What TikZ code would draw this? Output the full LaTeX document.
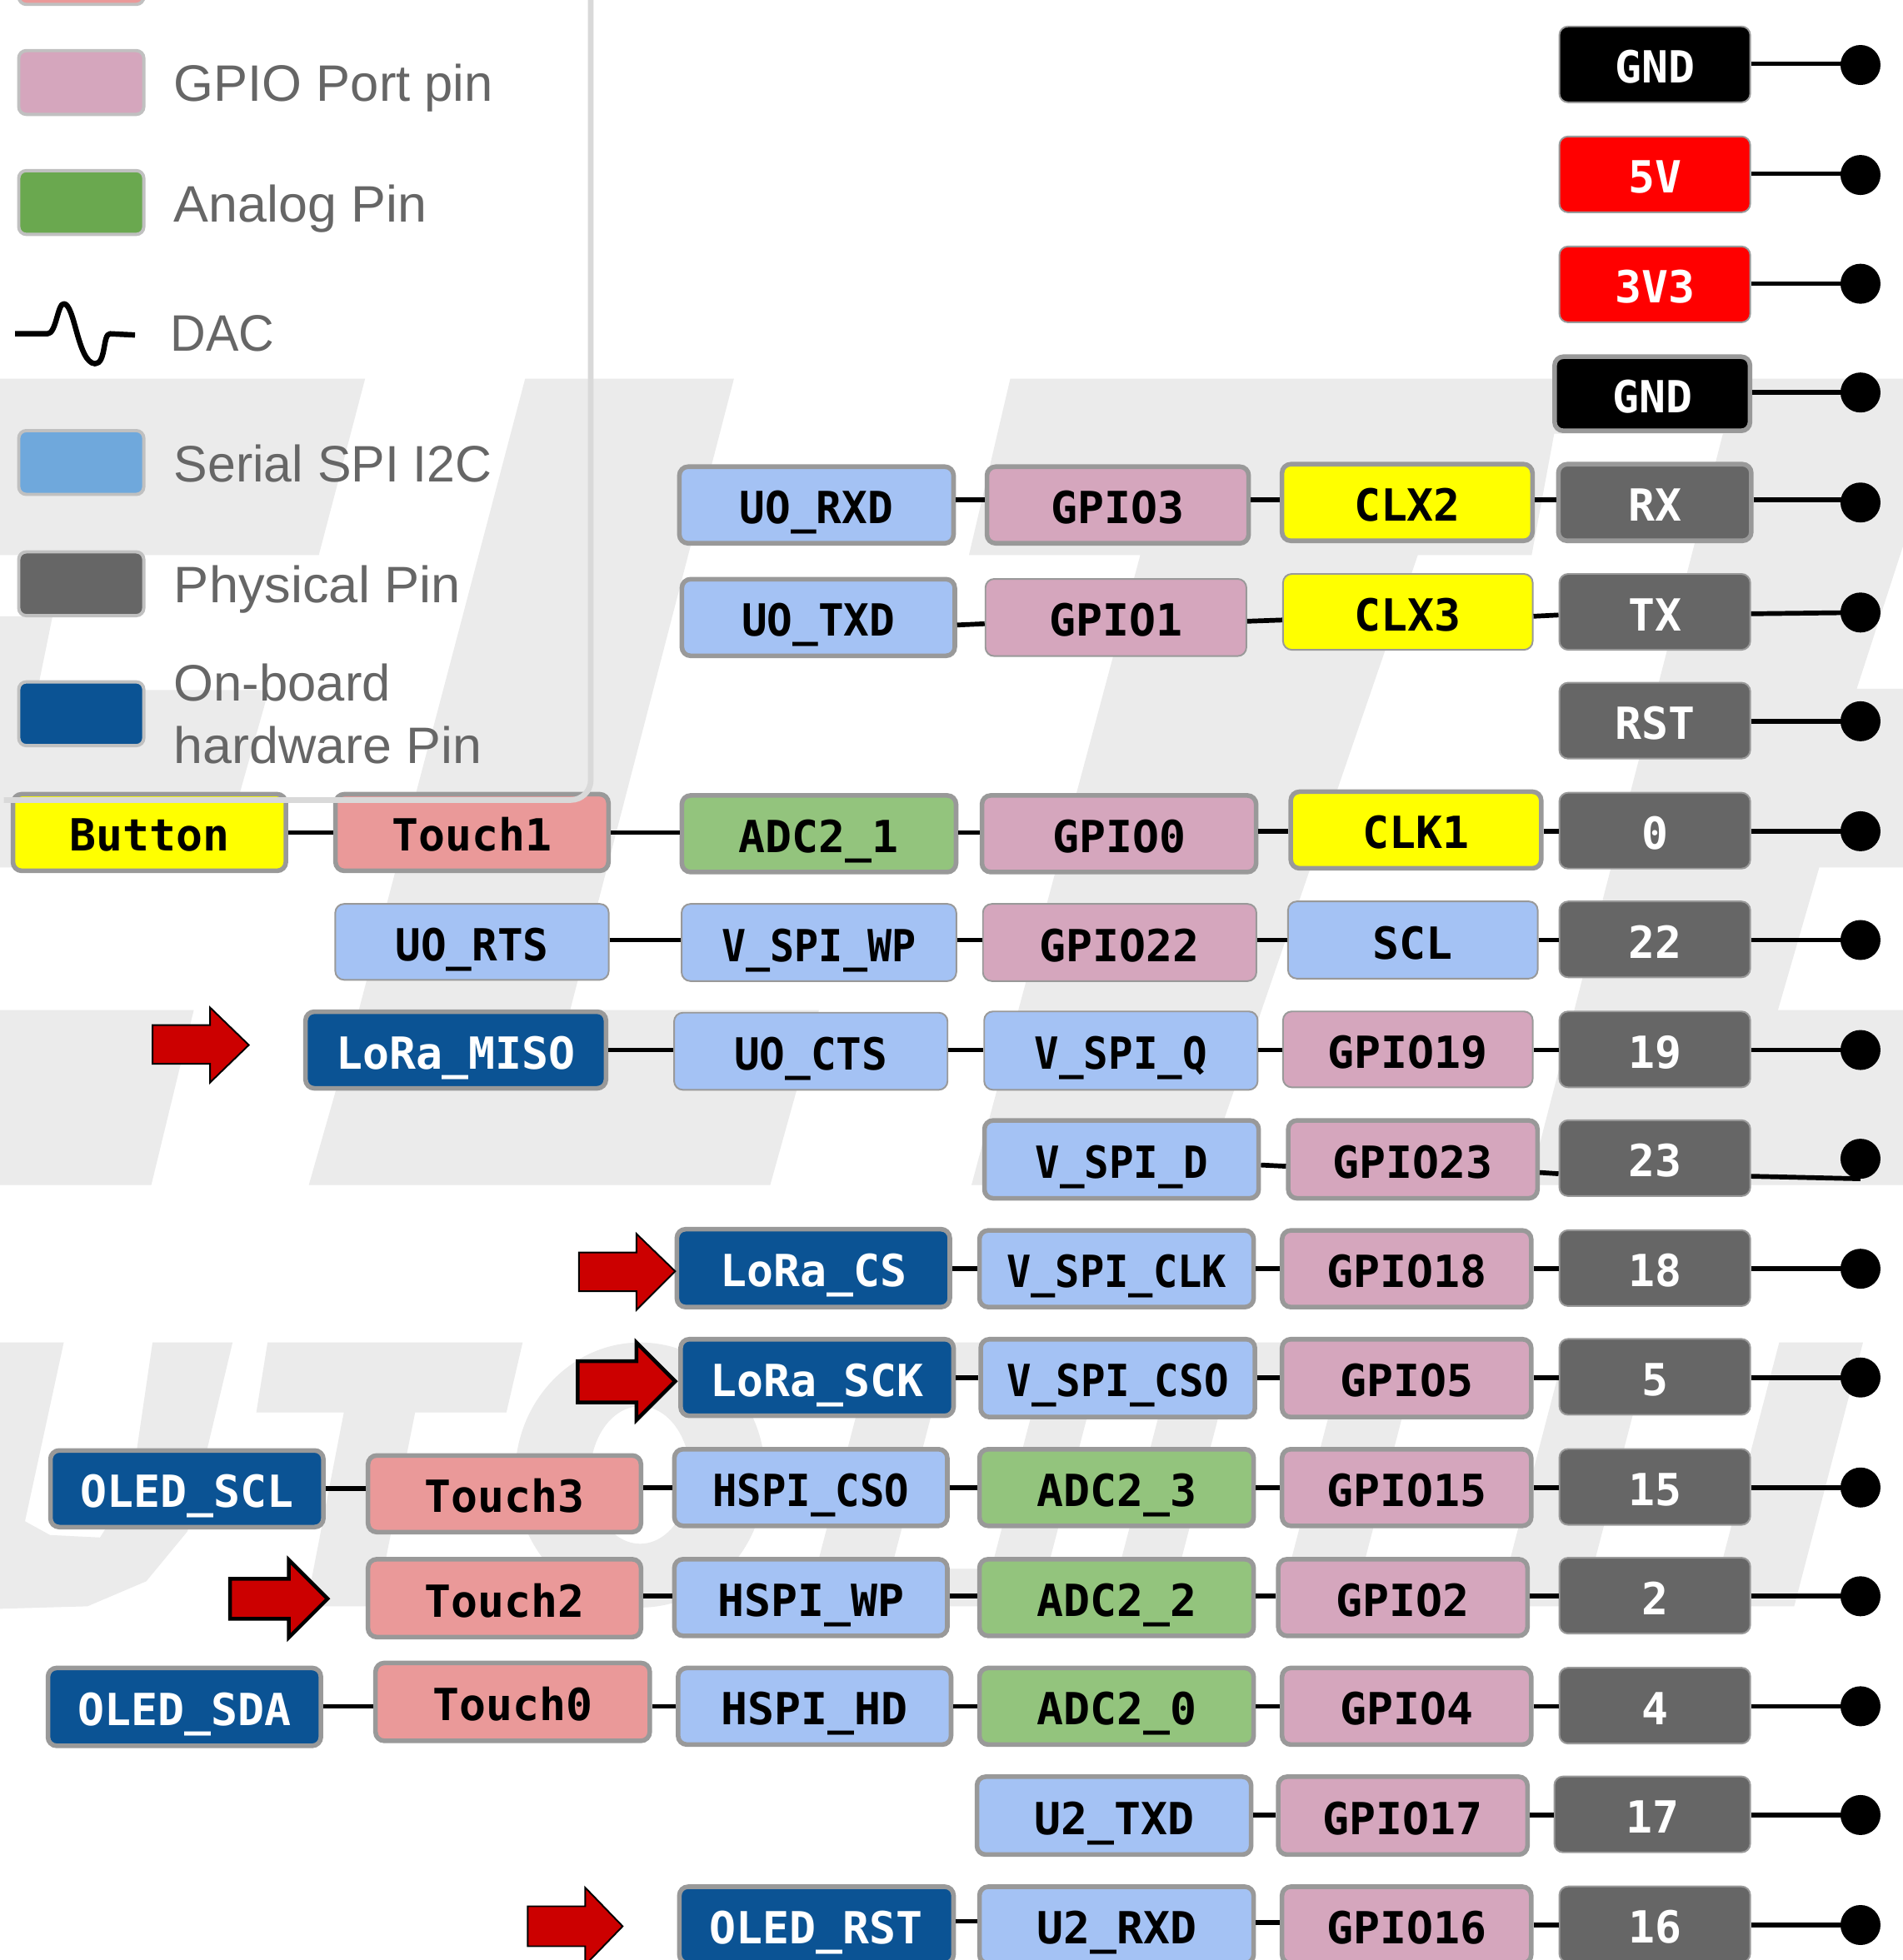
\documentclass[tikz,border=0pt]{standalone}
\usepackage{graphicx}
\usepackage{fontspec}
\setmainfont{Liberation Sans}
\newfontfamily\pinfont{DejaVu Sans Mono}
\definecolor{cblue}{HTML}{A4C2F4}
\definecolor{cpink}{HTML}{D5A6BD}
\definecolor{cgreen}{HTML}{93C47D}
\definecolor{csalmon}{HTML}{EA9999}
\definecolor{cyel}{HTML}{FFFF00}
\definecolor{cgray}{HTML}{666666}
\definecolor{cnavy}{HTML}{0B5394}
\definecolor{cred}{HTML}{FF0000}
\definecolor{cedge}{HTML}{999999}
\definecolor{lgreen}{HTML}{6AA84F}
\definecolor{lblue}{HTML}{6FA8DC}
\definecolor{wmark}{HTML}{EBEBEB}
\definecolor{panel}{HTML}{D9D9D9}
\definecolor{swedge}{HTML}{C0C0C0}
\definecolor{arrowred}{HTML}{CC0000}
\tikzset{
  pinbase/.style={rectangle,rounded corners=7pt,draw=cedge,inner sep=0pt,
    font=\pinfont\bfseries\fontsize{35.4}{40}\selectfont,
    text height=36pt,text depth=6pt},
  blue/.style={fill=cblue,text=black},
  pink/.style={fill=cpink,text=black},
  green/.style={fill=cgreen,text=black},
  salmon/.style={fill=csalmon,text=black},
  yel/.style={fill=cyel,text=black},
  phys/.style={fill=cgray,text=white},
  navy/.style={fill=cnavy,text=white},
  blk/.style={fill=black,text=white},
  rd/.style={fill=cred,text=white},
  wire/.style={draw=black,line width=3.8pt},
  enddot/.style={circle,fill=black,minimum size=32pt,inner sep=0pt},
  swatch/.style={rectangle,rounded corners=6pt,draw=swedge,line width=2.6pt,minimum width=100pt,minimum height=51pt,inner sep=0pt},
  legendtext/.style={anchor=base west,inner sep=0pt,text=cgray,font=\fontsize{41}{48}\selectfont},
  pointer/.style={fill=arrowred,draw=black,line join=miter},
  wm/.style={fill=wmark,draw=none}
}
% #1 line width, #2 style, #3 name, #4 x1, #5 x2, #6 y1, #7 y2, #8 text
\newcommand{\pinbox}[8]{%
  \pgfmathsetmacro{\pcx}{(#4+#5)/2}%
  \pgfmathsetmacro{\pcy}{(#6+#7)/2}%
  \pgfmathsetmacro{\pw}{#5-#4-#1+1}%
  \pgfmathsetmacro{\ph}{#7-#6-#1+1}%
  \node[pinbase,#2,line width=#1pt,minimum width=\pw pt,minimum height=\ph pt] (#3) at (\pcx,\pcy) {#8};%
}
\newcommand{\thk}[7]{\pinbox{3.7}{#1}{#2}{#3}{#4}{#5}{#6}{#7}}
\newcommand{\thn}[7]{\pinbox{1.3}{#1}{#2}{#3}{#4}{#5}{#6}{#7}}
\newcommand{\sq}[2]{\scalebox{#1}[1]{#2}}
\newcommand{\conn}[3]{\draw[wire] (#1.east |- 0,#3) -- (#2.west |- 0,#3);}
\newcommand{\connt}[4]{\draw[wire] (#1.east |- 0,#3) -- (#2.west |- 0,#4);}
\newcommand{\todot}[3]{\node[enddot] (d#1) at (1488,#3) {}; \draw[wire] (#1.east |- 0,#2) -- (d#1.center |- 0,#2);}
\begin{document}
\begin{tikzpicture}[x=1pt,y=-1pt]
\path[use as bounding box,clip] (0,0) rectangle (1522,1568);
\fill[white] (0,0) rectangle (1522,1568);
% watermark
\path[wm] (0,303)--(292,303)--(255,444)--(0,444)--cycle;
\path[wm] (420,303)--(587,303)--(456,808)--(655,808)--(616,948)--(247,948)--(287,808)--cycle;
\path[wm] (808,303)--(1522,303)--(1522,437)--(1485,551)--(1522,551)--(1522,694)--(1455,694)--(1422,808)--(1522,808)--(1522,948)--(1223,948)--(1378,347)--(1243,347)--(1225,444)--(1134,444)--(961,948)--(777,948)--(912,444)--(775,444)--cycle;
\path[wm] (0,493)--(42,493)--(30,552)--(215,552)--(175,694)--(0,694)--cycle;
\path[wm] (0,808)--(155,808)--(121,948)--(0,948)--cycle;
\path[wm] (0,1074)--(51,1074)--(20,1217)--(40,1228)--(80,1230)--(105,1190)--(122,1074)--(186,1074)--(150,1225)--(117,1265)--(70,1285)--(0,1287)--cycle;
\path[wm] (214,1074)--(418,1074)--(405,1130)--(332,1130)--(301,1285)--(245,1285)--(275,1130)--(205,1130)--cycle;
\path[wm,even odd rule] (512,1180) ellipse [x radius=100,y radius=106] (512,1180) ellipse [x radius=40,y radius=55];
\path[wm] (700,1074)--(760,1074)--(705,1285)--(645,1285)--cycle;
\path[wm] (840,1074)--(885,1074)--(830,1285)--(785,1285)--cycle;
\path[wm] (942,1074)--(990,1074)--(935,1285)--(887,1285)--cycle;
\path[wm] (1078,1074)--(1137,1074)--(1082,1285)--(1023,1285)--cycle;
\path[wm] (1253,1074)--(1321,1074)--(1266,1285)--(1198,1285)--cycle;
\path[wm] (1423,1074)--(1490,1074)--(1435,1285)--(1368,1285)--cycle;
\path[wm] (700,1074)--(1137,1074)--(1125,1100)--(695,1100)--cycle;
\path[wm] (600,1255)--(1000,1255)--(990,1285)--(590,1285)--cycle;
% legend swatches and texts
\node[swatch,fill=csalmon] (swTouch) at (65,-22) {};
\node[swatch,fill=cpink] (swGpio) at (65,66) {};
\node[swatch,fill=lgreen] (swAnalog) at (65,162) {};
\node[swatch,fill=lblue] (swSerial) at (65,370) {};
\node[swatch,fill=cgray] (swPhys) at (65,467) {};
\node[swatch,fill=cnavy] (swBoard) at (65,571) {};
\node[legendtext] (lGpio) at (139,81) {GPIO Port pin};
\node[legendtext] (lAnalog) at (139,177.5) {\sq{1.02}{Analog Pin}};
\node[legendtext] (lDac) at (136,281) {\sq{.96}{DAC}};
\node[legendtext] (lSerial) at (139,385.6) {\sq{.988}{Serial SPI I2C}};
\node[legendtext] (lPhys) at (139,482) {\sq{1.027}{Physical Pin}};
\node[legendtext] (lBoard) at (139,560.5) {On-board};
\node[legendtext] (lHard) at (139,611) {\sq{1.02}{hardware Pin}};
\draw[line width=4.3pt,line join=round] (12,267)--(38,267) .. controls (45,267) and (46,243) .. (51,243) .. controls (60,243) and (62,290) .. (76,291) .. controls (85,291) and (82,267) .. (88,267)--(108,268);
% pins right column
\thn{blk}{GNDa}{1247}{1400}{21}{82}{GND}
\thn{rd}{Vfive}{1247}{1400}{109}{170}{5V}
\thn{rd}{Vthree}{1247}{1400}{197}{258}{3V3}
\thk{blk}{GNDb}{1242}{1401}{284}{346}{GND}
\thk{phys}{pRX}{1245}{1402}{370}{434}{RX}
\thn{phys}{pTX}{1247}{1400}{459}{520}{TX}
\thn{phys}{pRST}{1247}{1400}{546}{607}{RST}
\thn{phys}{pZero}{1247}{1400}{634}{695}{0}
\thn{phys}{pTT}{1247}{1400}{721}{782}{22}
\thn{phys}{pNineteen}{1247}{1400}{809}{870}{19}
\thn{phys}{pTThree}{1247}{1400}{896}{957}{23}
\thn{phys}{pEighteen}{1247}{1400}{984}{1045}{18}
\thn{phys}{pFive}{1247}{1400}{1071}{1132}{5}
\thn{phys}{pFifteen}{1247}{1400}{1159}{1220}{15}
\thn{phys}{pTwo}{1247}{1400}{1246}{1307}{2}
\thn{phys}{pFour}{1247}{1400}{1334}{1395}{4}
\thn{phys}{pSeventeen}{1243}{1400}{1421}{1482}{17}
\thn{phys}{pSixteen}{1247}{1400}{1509}{1570}{16}
% rows
\thk{blue}{uRXD}{542}{764}{372}{436}{\sq{.96}{UO\_RXD}}
\thk{pink}{gThree}{788}{1000}{372}{436}{GPIO3}
\thk{yel}{clxTwo}{1024}{1227}{370}{434}{CLX2}
\thk{blue}{uTXD}{544}{765}{462}{526}{\sq{.96}{UO\_TXD}}
\thn{pink}{gOne}{788}{997}{463}{525}{GPIO1}
\thn{yel}{clxThree}{1026}{1226}{459}{520}{CLX3}
\thk{yel}{btn}{9}{230}{634}{698}{Button}
\thk{salmon}{tOne}{267}{488}{634}{698}{Touch1}
\thk{green}{aOne}{544}{766}{635}{699}{ADC2\_1}
\thk{pink}{gZero}{784}{1006}{635}{699}{GPIO0}
\thk{yel}{clkOne}{1031}{1234}{632}{696}{CLK1}
\thn{blue}{uRTS}{268}{487}{723}{784}{\sq{.96}{UO\_RTS}}
\thn{blue}{vWP}{545}{765}{723}{785}{\sq{.91}{V\_SPI\_WP}}
\thn{pink}{gTT}{786}{1005}{723}{785}{GPIO22}
\thn{blue}{scl}{1030}{1230}{721}{783}{SCL}
\thk{navy}{lMISO}{243}{486}{808}{872}{LoRa\_MISO}
\thn{blue}{uCTS}{539}{758}{810}{872}{\sq{.96}{UO\_CTS}}
\thn{blue}{vQ}{787}{1006}{809}{872}{\sq{.925}{V\_SPI\_Q}}
\thn{pink}{gNineteen}{1026}{1226}{809}{870}{GPIO19}
\thk{blue}{vD}{786}{1008}{895}{960}{\sq{.925}{V\_SPI\_D}}
\thk{pink}{gTThree}{1029}{1231}{895}{960}{GPIO23}
\thk{navy}{lCS}{540}{761}{982}{1047}{LoRa\_CS}
\thk{blue}{vCLK}{782}{1004}{983}{1047}{\sq{.916}{V\_SPI\_CLK}}
\thk{pink}{gEighteen}{1024}{1226}{983}{1047}{GPIO18}
\thk{navy}{lSCK}{543}{764}{1070}{1134}{LoRa\_SCK}
\thk{blue}{vCSO}{783}{1005}{1070}{1135}{\sq{.925}{V\_SPI\_CSO}}
\thk{pink}{gFive}{1024}{1226}{1070}{1135}{GPIO5}
\thk{navy}{oSCL}{39}{260}{1159}{1223}{OLED\_SCL}
\thk{salmon}{tThree}{293}{514}{1163}{1227}{Touch3}
\thk{blue}{hCSO}{538}{759}{1158}{1222}{\sq{.92}{HSPI\_CSO}}
\thk{green}{aThree}{782}{1004}{1158}{1222}{ADC2\_3}
\thk{pink}{gFifteen}{1024}{1226}{1158}{1222}{GPIO15}
\thk{salmon}{tTwo}{293}{514}{1246}{1311}{Touch2}
\thk{blue}{hWP}{538}{759}{1246}{1310}{HSPI\_WP}
\thk{green}{aTwo}{782}{1004}{1246}{1310}{ADC2\_2}
\thk{pink}{gTwo}{1021}{1223}{1246}{1310}{GPIO2}
\thk{navy}{oSDA}{37}{258}{1333}{1398}{OLED\_SDA}
\thk{salmon}{tZero}{299}{521}{1329}{1394}{Touch0}
\thk{blue}{hHD}{541}{762}{1333}{1397}{HSPI\_HD}
\thk{green}{aZero}{782}{1004}{1333}{1397}{ADC2\_0}
\thk{pink}{gFour}{1024}{1226}{1333}{1397}{GPIO4}
\thk{blue}{uTwoT}{780}{1002}{1420}{1485}{U2\_TXD}
\thk{pink}{gSeventeen}{1021}{1223}{1420}{1485}{GPIO17}
\thk{navy}{oRST}{542}{764}{1508}{1572}{OLED\_RST}
\thk{blue}{uTwoR}{782}{1004}{1508}{1572}{U2\_RXD}
\thk{pink}{gSixteen}{1024}{1226}{1508}{1572}{GPIO16}
% connectors
\conn{uRXD}{gThree}{400}\conn{gThree}{clxTwo}{400}\conn{clxTwo}{pRX}{400}
\connt{uTXD}{gOne}{500}{499}\connt{gOne}{clxThree}{497}{496}\connt{clxThree}{pTX}{493}{492}
\conn{btn}{tOne}{666}\conn{tOne}{aOne}{666}\conn{aOne}{gZero}{666}\conn{gZero}{clkOne}{665}\conn{clkOne}{pZero}{665}
\conn{uRTS}{vWP}{752}\conn{vWP}{gTT}{752}\conn{gTT}{scl}{752}\conn{scl}{pTT}{752}
\conn{lMISO}{uCTS}{840}\conn{uCTS}{vQ}{840}\conn{vQ}{gNineteen}{840}\conn{gNineteen}{pNineteen}{840}
\connt{vD}{gTThree}{932}{933}\connt{gTThree}{pTThree}{938}{939}
\conn{lCS}{vCLK}{1015}\conn{vCLK}{gEighteen}{1015}\conn{gEighteen}{pEighteen}{1015}
\conn{lSCK}{vCSO}{1102}\conn{vCSO}{gFive}{1102}\conn{gFive}{pFive}{1102}
\conn{oSCL}{tThree}{1191}\conn{tThree}{hCSO}{1190}\conn{hCSO}{aThree}{1190}\conn{aThree}{gFifteen}{1190}\conn{gFifteen}{pFifteen}{1190}
\conn{tTwo}{hWP}{1277}\conn{hWP}{aTwo}{1277}\conn{aTwo}{gTwo}{1277}\conn{gTwo}{pTwo}{1277}
\conn{oSDA}{tZero}{1365}\conn{tZero}{hHD}{1365}\conn{hHD}{aZero}{1365}\conn{aZero}{gFour}{1365}\conn{gFour}{pFour}{1365}
\conn{uTwoT}{gSeventeen}{1452}\conn{gSeventeen}{pSeventeen}{1452}
\conn{oRST}{uTwoR}{1537}\conn{uTwoR}{gSixteen}{1538}\conn{gSixteen}{pSixteen}{1540}
% pins to end dots
\todot{GNDa}{51}{52}\todot{Vfive}{139}{140}\todot{Vthree}{227}{227}\todot{GNDb}{314}{314}
\todot{pRX}{400}{402}
\node[enddot] (dpTX) at (1488,490) {}; \draw[wire] (pTX.east |- 0,491) -- (dpTX.center);
\todot{pRST}{577}{577}\todot{pZero}{665}{665}\todot{pTT}{752}{752}\todot{pNineteen}{840}{840}
\node[enddot] (dpTThree) at (1488,927) {};
\coordinate (endTThree) at (1488,943);
\draw[wire] (pTThree.east |- 0,941) -- (endTThree);
\todot{pEighteen}{1015}{1015}\todot{pFive}{1102}{1102}\todot{pFifteen}{1190}{1190}\todot{pTwo}{1277}{1277}\todot{pFour}{1365}{1365}\todot{pSeventeen}{1452}{1452}\todot{pSixteen}{1540}{1540}
% red pointers
\draw[pointer,line width=1.3pt] (122,820)--(168,820)--(168,806)--(199,836)--(168,866)--(168,851)--(122,851)--cycle;
\draw[pointer,line width=1.3pt] (463,1002)--(509,1002)--(509,987)--(540,1017)--(509,1048)--(509,1033)--(463,1033)--cycle;
\draw[pointer,line width=3pt] (462,1089)--(509,1089)--(509,1074)--(540,1105)--(509,1136)--(509,1122)--(462,1122)--cycle;
\draw[pointer,line width=3pt] (184,1263)--(231,1263)--(231,1248)--(262,1279)--(231,1310)--(231,1295)--(184,1295)--cycle;
\draw[pointer,line width=1.3pt] (422,1525)--(468,1525)--(468,1510)--(498,1541)--(468,1572)--(468,1557)--(422,1557)--cycle;
% legend frame, over the top row
\draw[panel,line width=4.5pt,rounded corners=16pt] (472.5,-10)--(472.5,640)--(3,640);
\end{tikzpicture}
\end{document}
